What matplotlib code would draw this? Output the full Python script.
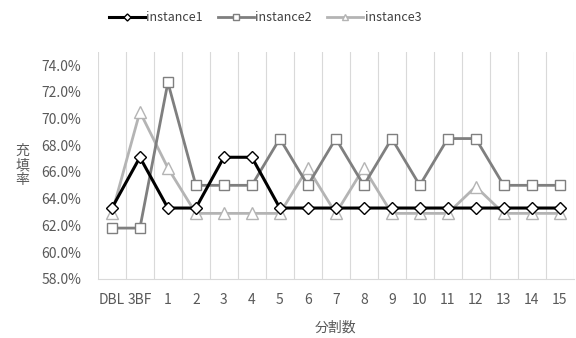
import numpy as np
import matplotlib
matplotlib.use('Agg')
import matplotlib.pyplot as plt

plt.rcParams['font.family'] = ['Noto Sans CJK JP', 'DejaVu Sans']

categories = ['DBL', '3BF', '1', '2', '3', '4', '5', '6', '7', '8',
              '9', '10', '11', '12', '13', '14', '15']
instance1 = [63.3, 67.1, 63.3, 63.3, 67.1, 67.1, 63.3, 63.3, 63.3, 63.3,
             63.3, 63.3, 63.3, 63.3, 63.3, 63.3, 63.3]
instance2 = [61.8, 61.8, 72.7, 65.0, 65.0, 65.0, 68.5, 65.0, 68.5, 65.0,
             68.5, 65.0, 68.5, 68.5, 65.0, 65.0, 65.0]
instance3 = [62.9, 70.5, 66.3, 62.9, 62.9, 62.9, 62.9, 66.3, 62.9, 66.3,
             62.9, 62.9, 62.9, 64.9, 62.9, 62.9, 62.9]
y_ticks = [58, 60, 62, 64, 66, 68, 70, 72, 74]

fig = plt.figure(figsize=(5.76, 3.38), dpi=100)
ax = fig.add_axes([0.17, 0.175, 0.826, 0.672])

x = np.arange(len(categories))

# vertical grid at category boundaries
for b in np.arange(-0.5, len(categories), 1.0):
    ax.axvline(b, color='#d9d9d9', lw=0.8, zorder=0)

ax.plot(x, instance1, color='black', lw=2.2, marker='D', ms=6,
        mfc='white', mec='black', mew=1.0, label='instance1', zorder=5)
ax.plot(x, instance2, color='#7f7f7f', lw=2.0, marker='s', ms=7.5,
        mfc='white', mec='#7f7f7f', mew=1.0, label='instance2', zorder=4)
ax.plot(x, instance3, color='#b4b4b4', lw=2.0, marker='^', ms=8,
        mfc='white', mec='#b4b4b4', mew=1.0, label='instance3', zorder=3)

ax.set_xlim(-0.5, len(categories) - 0.5)
ax.set_ylim(58, 75)
ax.set_yticks(y_ticks)
ax.set_yticklabels(['%.1f%%' % v for v in y_ticks])
ax.set_xticks(x)
ax.set_xticklabels(categories)
ax.tick_params(length=0, labelsize=10, colors='#595959')
ax.tick_params(axis='y', pad=12)
ax.tick_params(axis='x', pad=10)

for s in ['top', 'right', 'left']:
    ax.spines[s].set_visible(False)
ax.spines['bottom'].set_color('#d9d9d9')

ax.set_ylabel('充\n填\n率', rotation=0, color='#595959', fontsize=10,
              va='center', ha='center', linespacing=1.05)
ax.yaxis.set_label_coords(-0.158, 0.5)
ax.set_xlabel('分割数', color='#595959', fontsize=10, labelpad=10)

fig.legend(loc='upper center', bbox_to_anchor=(0.46, 1.0), ncol=3,
           frameon=False, fontsize=9, handlelength=2.9, handletextpad=0.1,
           columnspacing=1.2, markerscale=0.6, labelcolor='#404040')

fig.savefig('out.png', dpi=100)
